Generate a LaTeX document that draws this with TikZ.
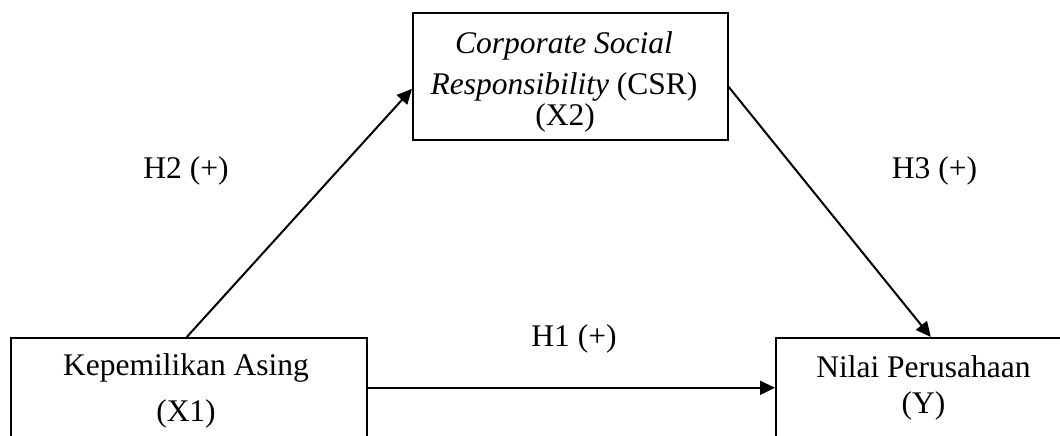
\documentclass[tikz,border=0pt]{standalone}
\usepackage{fontspec}
\setmainfont{Liberation Serif}
\usetikzlibrary{arrows.meta}
\begin{document}
\begin{tikzpicture}[x=1pt,y=-1pt,
  box/.style={draw,line width=1.6pt,rectangle,inner sep=0pt,anchor=north west},
  txt/.style={anchor=base,inner sep=0pt,font=\fontsize{31.5}{36}\selectfont},
  arr/.style={line width=2pt,-{Triangle[length=15pt,width=14pt]}}]
\clip (0,0) rectangle (1060,436);
\node[box,minimum width=315pt,minimum height=127pt] (csr) at (412,12) {};
\node[box,minimum width=356pt,minimum height=100pt] (x1) at (10,337) {};
\node[box,minimum width=310pt,minimum height=100pt] (y) at (775,337) {};
\node[txt] (t1a) at (564,53) {\itshape Corporate Social};
\node[txt] (t1b) at (564,94) {{\itshape Responsibility\/} (CSR)};
\node[txt] (t1c) at (565,125) {(X2)};
\node[txt] (t2a) at (186,375) {Kepemilikan Asing};
\node[txt] (t2b) at (186,421) {(X1)};
\node[txt] (t3a) at (923.5,377) {Nilai Perusahaan};
\node[txt] (t3b) at (923.5,413) {(Y)};
\node[txt] (h2) at (186,178) {H2 (+)};
\node[txt] (h3) at (934.5,178) {H3 (+)};
\node[txt] (h1) at (574,346) {H1 (+)};
\draw[arr] ([xshift=-2pt]x1.north) -- ([yshift=-12.5pt]csr.west);
\draw[arr] ([yshift=-10.5pt]csr.east) -- (y.north);
\draw[arr] (x1.east) -- (y.west);
\end{tikzpicture}
\end{document}
